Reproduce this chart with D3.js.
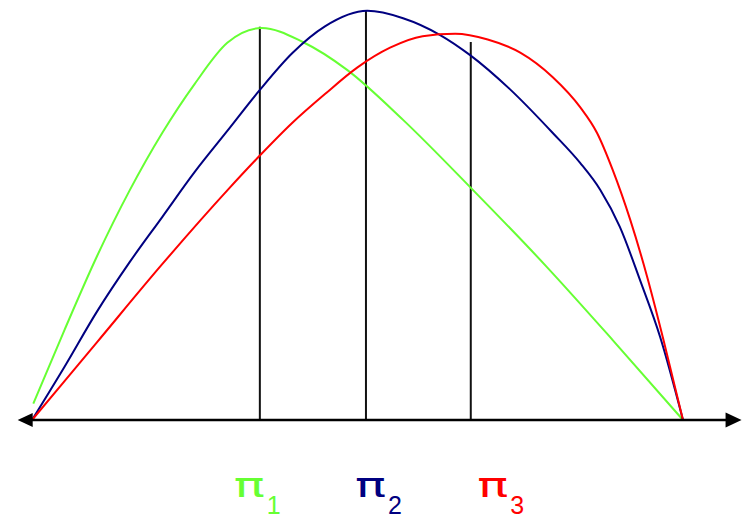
<!DOCTYPE html>
<html>
<head>
<meta charset="utf-8">
<script src="https://cdn.jsdelivr.net/npm/d3@7"></script>
<style>
  html, body { margin: 0; padding: 0; background: #fff; }
  svg { display: block; }
</style>
</head>
<body>
<div id="canvas"></div>
<script>
var _width = 744;
var _height = 519;

// series, x in 0..100 along the axis, y in 0..100 height
var green = [[0.2,4],[5,22],[10,40],[15,56],[20,70],[25,82],[30,92],[35.3,95.6],[41.6,92.2],
             [48.4,85.4],[57,73.2],[67.3,56.8],[79.1,37.3],[89.2,19.5],[100,0]];
var blue = [[0,0],[5,13],[10,26.5],[15,38.5],[20,49.5],[25,60.5],[30,70.5],[35,80.5],[40,89.5],
            [45,96],[51.5,99.8],[57,98],[62.7,93.9],[67.3,89],[73.4,80.7],[80,70],[84.2,62.7],
            [87.3,56.1],[90.3,47.1],[93.4,34.1],[96.5,20.2],[100,0]];
var red = [[0,0],[10,19],[20,38],[30,56],[35,64.5],[40,72.5],[45,79.5],[50,86],[55,90.8],
           [60,93.6],[65,94.2],[70,92.8],[75,89.6],[80,83.6],[84.2,76.3],[86.8,70],[89.2,61],
           [91.9,48.8],[94.5,34.9],[96.9,20.2],[100,0]];

// vertical markers (x, top)
var markX = [35.0, 51.3, 67.4];
var markTop = [95.9, 99.8, 92.2];

var labels = ["1", "2", "3"];
var labelX = [31.0, 49.6, 68.4];
var colors = ["#66ff33", "#000080", "#ff0000"];

var axisExtent = [-2.2, 109.0];

var x = d3.scaleLinear().domain([0, 100]).range([32, 683]);
var y = d3.scaleLinear().domain([0, 100]).range([420, 10]);

var svg = d3.select('#canvas').append('svg')
    .attr('width', _width)
    .attr('height', _height);

svg.append('rect').attr('width', _width).attr('height', _height).attr('fill', '#fff');

var line = d3.line()
    .x(function (d) { return x(d[0]); })
    .y(function (d) { return y(d[1]); })
    .curve(d3.curveMonotoneX);

// vertical lines
svg.selectAll('line.mark').data(markX).enter().append('line')
    .attr('class', 'mark')
    .attr('x1', function (d) { return x(d); })
    .attr('x2', function (d) { return x(d); })
    .attr('y1', function (d, i) { return y(markTop[i]); })
    .attr('y2', y(0))
    .style('stroke', '#111')
    .style('stroke-width', '2');

// curves
[green, blue, red].forEach(function (s, i) {
    svg.append('path')
        .datum(s)
        .attr('d', line)
        .style('fill', 'none')
        .style('stroke', colors[i])
        .style('stroke-width', '2');
});

// axis with arrowheads at both ends
var ax0 = x(axisExtent[0]), ax1 = x(axisExtent[1]), ay = y(0);
svg.append('line')
    .attr('x1', ax0 + 10).attr('x2', ax1 - 10)
    .attr('y1', ay).attr('y2', ay)
    .style('stroke', '#000')
    .style('stroke-width', '2.5');
svg.append('path')
    .attr('d', 'M' + ax0 + ',' + ay + 'L' + (ax0 + 15) + ',' + (ay - 7) + 'L' + (ax0 + 15) + ',' + (ay + 7) + 'Z')
    .style('fill', '#000');
svg.append('path')
    .attr('d', 'M' + ax1 + ',' + ay + 'L' + (ax1 - 16) + ',' + (ay - 7.5) + 'L' + (ax1 - 16) + ',' + (ay + 7.5) + 'Z')
    .style('fill', '#000');

// labels
var lab = svg.selectAll('g.lab').data(labels).enter().append('g')
    .attr('class', 'lab')
    .attr('transform', function (d, i) { return 'translate(' + x(labelX[i]) + ',497)'; })
    .style('fill', function (d, i) { return colors[i]; });

lab.append('text')
    .attr('x', 0)
    .attr('y', 0)
    .attr('font-size', 33)
    .attr('font-family', '"DejaVu Sans", sans-serif')
    .attr('textLength', 31)
    .attr('lengthAdjust', 'spacingAndGlyphs')
    .text('π');

lab.append('text')
    .attr('x', 33)
    .attr('y', 17)
    .attr('font-size', 25)
    .attr('font-family', 'Arial, "Liberation Sans", sans-serif')
    .text(function (d) { return d; });
</script>
</body>
</html>
